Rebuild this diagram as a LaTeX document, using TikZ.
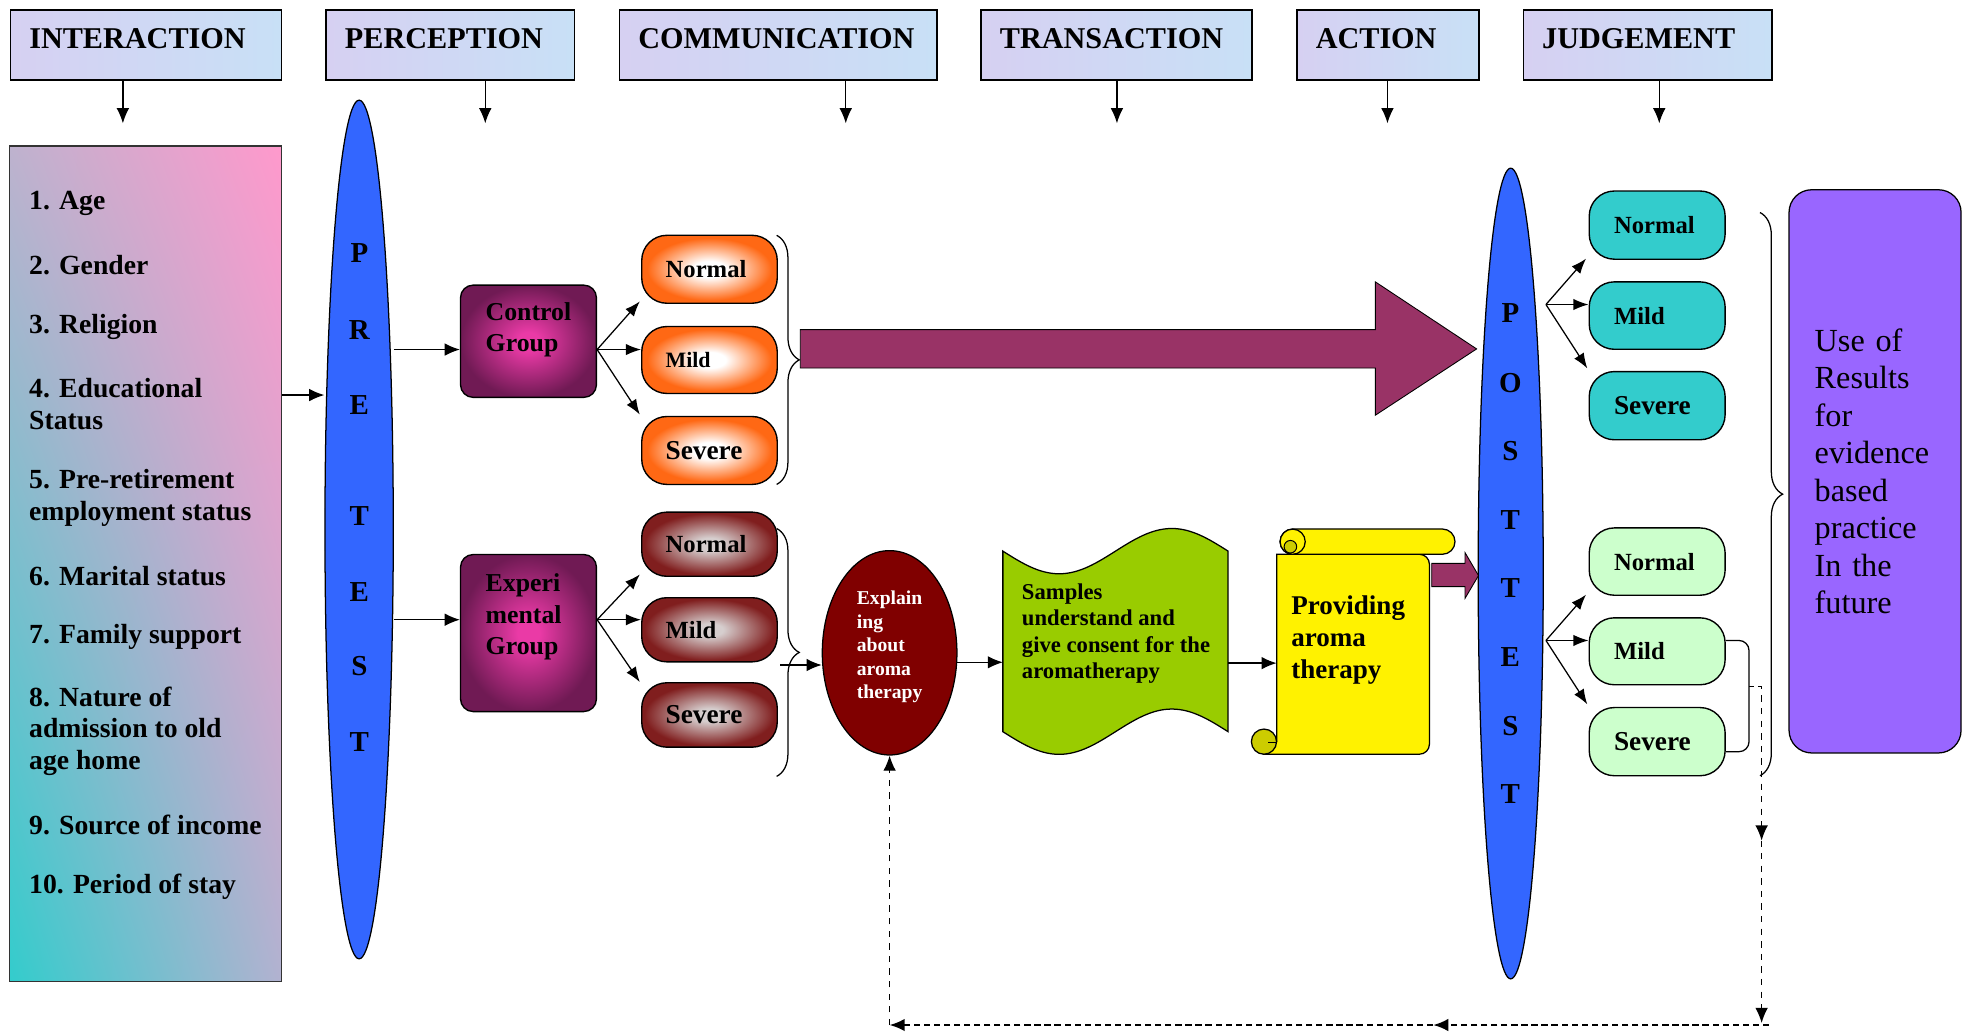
\documentclass[tikz,border=0pt]{standalone}
\usepackage{fontspec}
\setmainfont{Liberation Serif}
\usetikzlibrary{arrows.meta,shapes.geometric,decorations.pathreplacing,shadings}

\definecolor{hdrA}{RGB}{214,208,242}
\definecolor{hdrB}{RGB}{200,224,246}
\definecolor{pinkC}{RGB}{255,153,204}
\definecolor{tealC}{RGB}{51,204,204}
\definecolor{mixA}{RGB}{190,178,206}
\definecolor{mixB}{RGB}{178,178,208}
\definecolor{blueE}{RGB}{51,102,255}
\definecolor{grpIn}{RGB}{234,58,166}
\definecolor{grpOut}{RGB}{112,26,84}
\definecolor{orEdge}{RGB}{255,104,20}
\definecolor{brIn}{RGB}{214,206,206}
\definecolor{brEdge}{RGB}{128,30,30}
\definecolor{plum}{RGB}{153,51,102}
\definecolor{darkRed}{RGB}{128,0,0}
\definecolor{limeC}{RGB}{153,204,0}
\definecolor{curlY}{RGB}{204,204,0}
\definecolor{cyanC}{RGB}{51,204,204}
\definecolor{mintC}{RGB}{204,255,204}
\definecolor{violetC}{RGB}{153,102,255}

\pgfdeclareradialshading{orglow}{\pgfpoint{0bp}{0bp}}{color(0bp)=(white); color(6bp)=(white); color(23bp)=(orEdge); color(50bp)=(orEdge)}
\pgfdeclareradialshading{brglow}{\pgfpoint{0bp}{0bp}}{color(0bp)=(brIn); color(5bp)=(brIn); color(24bp)=(brEdge); color(50bp)=(brEdge)}
\pgfdeclareradialshading{grpglow}{\pgfpoint{0bp}{0bp}}{color(0bp)=(grpIn); color(4bp)=(grpIn); color(25bp)=(grpOut); color(50bp)=(grpOut)}

\begin{document}
\begin{tikzpicture}[x=1pt,y=-1pt,
  arr/.style={-{Latex[length=12pt,width=10pt]}, line width=1pt},
  arrS/.style={-{Latex[length=12pt,width=9pt]}, line width=1pt},
  hdr/.style={draw, line width=1.3pt, left color=hdrA, right color=hdrB, anchor=north west,
    minimum height=55.6pt, inner xsep=15pt, inner ysep=0pt, align=left,
    font=\fontsize{24}{28}\selectfont\bfseries, text height=16pt, text depth=10pt},
  item/.style={anchor=west, align=left, inner sep=0pt, font=\fontsize{22}{25}\selectfont\bfseries},
  letter/.style={inner sep=0pt, font=\fontsize{23}{23}\selectfont\bfseries},
  grpbox/.style={draw, line width=1.1pt, rounded corners=10pt, shade, shading=grpglow, minimum width=108pt, inner sep=0pt},
  grptxt/.style={align=left, text width=68pt, inner sep=0pt, font=\fontsize{20.5}{25}\selectfont\bfseries},
  pill/.style={draw, line width=1.1pt, rounded corners=20pt, minimum width=107.7pt, inner xsep=19pt, inner ysep=0pt, text width=69.7pt, align=left},
  orpill/.style={pill, shade, shading=orglow},
  brpill/.style={pill, shade, shading=brglow},
  cypill/.style={pill, fill=cyanC, minimum width=108pt, inner xsep=19.7pt, text width=68.6pt},
  mnpill/.style={pill, fill=mintC, minimum width=108pt, inner xsep=19.7pt, text width=68.6pt},
  fNorm/.style={font=\fontsize{19.6}{22}\selectfont\bfseries},
  fMildS/.style={font=\fontsize{17.4}{20}\selectfont\bfseries},
  fMild/.style={font=\fontsize{19.6}{22}\selectfont\bfseries},
  fSev/.style={font=\fontsize{21.7}{24}\selectfont\bfseries},
  bracestyle/.style={line width=1pt, decorate, decoration={brace, amplitude=18pt}},
  vdsh/.style={dash pattern=on 5pt off 5pt, line width=1pt},
  hdsh/.style={dash pattern=on 5pt off 3pt, line width=1.6pt}
]
\useasboundingbox (0,0) rectangle (1568,821);

% ---------- headers ----------
\node[hdr, minimum width=215.4pt, text width=185.4pt] (h1) at (7.6,7.2) {INTERACTION};
\node[hdr, minimum width=197.5pt, text width=167.5pt] (h2) at (258.5,7.2) {PERCEPTION};
\node[hdr, minimum width=252.4pt, text width=222.4pt] (h3) at (491.6,7.2) {COMMUNICATION};
\node[hdr, minimum width=215.5pt, text width=185.5pt] (h4) at (779,7.2) {TRANSACTION};
\node[hdr, minimum width=144.6pt, text width=114.6pt] (h5) at (1030,7.2) {ACTION};
\node[hdr, minimum width=197.5pt, text width=167.5pt] (h6) at (1210,7.2) {JUDGEMENT};
\foreach \h/\dx in {h1/-18.3, h2/27.75, h3/53.7, h4/0.25, h5/-0.3, h6/9.25}
  \draw[arr] ([xshift=\dx]\h.south) -- ++(0,33.9);

% ---------- demographic box ----------
\node[draw=black!80, line width=0.9pt, shade, upper left=mixA, upper right=pinkC,
      lower left=tealC, lower right=mixB, anchor=north west,
      minimum width=216.1pt, minimum height=663.8pt, inner sep=0pt] (demo) at (7.2,115.6) {};
\node[item] (l1) at (23,161.5) {1. Age};
\node[item] (l2) at (23,210.5) {2. Gender};
\node[item] (l3) at (23,259.5) {3. Religion};
\node[item] (l4) at (23,321) {4. Educational\\Status};
\node[item] (l5) at (23,395.5) {5. Pre-retirement\\employment status};
\node[item] (l6) at (23,457.5) {6. Marital status};
\node[item] (l7) at (23,506.5) {7. Family support};
\node[item] (l8) at (23,581) {8. Nature of\\admission to old\\age home};
\node[item] (l9) at (23,655.5) {9. Source of income};
\node[item] (l10) at (23,705) {10. Period of stay};

% ---------- PRETEST ----------
\node[ellipse, draw, line width=1pt, fill=blueE, minimum width=54.3pt, minimum height=682.4pt, inner sep=0pt] (pre) at (285.4,420.8) {};
\foreach \L/\y [count=\i] in {P/200.8,R/262,E/322.2,T/410.4,E/470.2,S/529.6,T/589.4}
  \node[letter] (pre\i) at (285.6,\y) {\L};

\coordinate (dout) at ([yshift=134pt]demo.east);
\draw[arr] (dout) -- (dout -| pre.west);

% ---------- groups ----------
\node[grpbox, minimum height=89.2pt] (cg) at (420,271.2) {};
\node[grptxt] (cgt) at ([yshift=9pt]cg.center) {Control\\Group};
\node[grpbox, minimum height=124.8pt] (eg) at (420,503.1) {};
\node[grptxt] (egt) at ([yshift=12.9pt]eg.center) {Experi\\mental\\Group};

\coordinate (cgin) at ([yshift=-6.6pt]cg.west);
\coordinate (egin) at ([yshift=10.6pt]eg.west);
\draw[arr] (pre.east |- cgin) -- (cgin);
\draw[arr] (pre.east |- egin) -- (egin);

% ---------- pre-test levels ----------
\node[orpill, minimum height=54pt, fNorm] (on) at (563.85,214) {Normal};
\node[orpill, minimum height=53.2pt, fMildS] (om) at (563.85,286.1) {Mild};
\node[orpill, minimum height=54pt, fSev] (os) at (563.85,358) {Severe};
\node[brpill, minimum height=51pt, fNorm] (bn) at (563.85,432.5) {Normal};
\node[brpill, minimum height=51pt, fMild] (bm) at (563.85,500.5) {Mild};
\node[brpill, minimum height=51.2pt, fSev] (bs) at (563.85,568.2) {Severe};

\coordinate (c0) at ([yshift=-6.6pt]cg.east);
\draw[arrS] (c0) -- ([shift={(-1pt,2pt)}]on.south west);
\draw[arrS] (c0) -- (c0 -| om.west);
\draw[arrS] (c0) -- ([shift={(-1pt,1pt)}]os.north west);
\coordinate (e0) at ([yshift=10.6pt]eg.east);
\draw[arrS] (e0) -- ([shift={(-1pt,2pt)}]bn.south west);
\draw[arrS] (e0) -- (e0 -| bm.west);
\draw[arrS] (e0) -- ([shift={(-1pt,0pt)}]bs.north west);

\draw[bracestyle] (617.2,187) -- (617.2,385);
\draw[bracestyle] (617.2,420) -- (617.2,617);

% ---------- big arrow ----------
\draw[fill=plum, line width=0.7pt] (636,262) -- (1093,262) -- (1093,224) -- (1173.5,277.3)
  -- (1093,330) -- (1093,292.5) -- (636,292.5) -- cycle;

% ---------- explaining ----------
\node[ellipse, draw, line width=1pt, fill=darkRed, minimum width=107pt, minimum height=162.4pt, inner sep=0pt] (expl) at (707,518.8) {};
\node[align=left, text=white, inner sep=0pt, font=\fontsize{15.6}{18.7}\selectfont\bfseries] (explt) at (707,514.2) {Explain\\ing\\about\\aroma\\therapy};
\coordinate (btip) at (620,528.5);
\draw[arr] (btip) -- (btip -| expl.west);

% ---------- samples (wavy document) ----------
\draw[fill=limeC, line width=1pt] (797,438) sin (841.75,456) cos (886.5,438) sin (931.25,420) cos (976,438)
  -- (976,581.5) sin (931.25,563.5) cos (886.5,581.5) sin (841.75,599.5) cos (797,581.5) -- cycle;
\node[align=left, anchor=west, inner sep=0pt, font=\fontsize{18}{21}\selectfont\bfseries] (samples) at (812,503.6)
  {Samples\\understand and\\give consent for the\\aromatherapy};
\coordinate (docW) at (797,527);
\coordinate (docE) at (976.2,527);
\draw[arr] (expl.-8.5) -- (expl.-8.5 -| docW);

% ---------- scroll ----------
\draw[fill=yellow, line width=1pt] (1136,440.5) -- (1014.6,440.5) -- (1014.6,589.4) -- (1004.5,599.4)
  [rounded corners=8pt] -- (1136,599.4) -- cycle;
\draw[fill=yellow, line width=1pt, rounded corners=10pt] (1017.3,420.4) rectangle (1156.3,440.5);
\draw[fill=yellow, line width=1pt] (1027.3,430.5) circle[radius=10];
\draw[fill=curlY, line width=0.8pt] (1025.5,434.5) circle[radius=5];
\draw[fill=curlY, line width=1pt] (1004.5,589.4) circle[radius=10];
\draw[line width=0.8pt] (1014.6,580) -- (1014.6,590) -- (1008,590);
\node[anchor=west, align=left, minimum width=121.4pt, text width=98.6pt, inner xsep=11.4pt, inner ysep=0pt,
      font=\fontsize{21.5}{25.5}\selectfont\bfseries] (provide) at (1014.6,508.8) {Providing\\aroma\\therapy};
\draw[arr] (docE) -- (docE -| provide.west);

% ---------- POSTTEST ----------
\node[ellipse, draw, line width=1pt, fill=blueE, minimum width=51.7pt, minimum height=644.3pt, inner sep=0pt] (post) at (1200.6,455.8) {};
\foreach \L/\y [count=\i] in {P/248.7,O/304.4,S/358.7,T/412.9,T/467,E/522.2,S/577,T/631.3}
  \node[letter] (post\i) at (1200.3,\y) {\L};

\draw[fill=plum, line width=0.7pt] (1137.8,447.7) -- (1164.3,447.7) -- (1164.3,439.2) -- (1175,457.4)
  -- (1164.3,475.5) -- (1164.3,466.2) -- (1137.8,466.2) -- cycle;

% ---------- post-test levels ----------
\node[cypill, minimum height=54.2pt, fNorm] (cn) at (1317,178.9) {Normal};
\node[cypill, minimum height=53.6pt, fMild] (cm) at (1317,250.8) {Mild};
\node[cypill, minimum height=54.2pt, fSev] (cs) at (1317,322.4) {Severe};
\node[mnpill, minimum height=53.5pt, fNorm] (gn) at (1317,446.3) {Normal};
\node[mnpill, minimum height=53.2pt, fMild] (gm) at (1317,517.6) {Mild};
\node[mnpill, minimum height=54.2pt, fSev] (gs) at (1317,589.4) {Severe};

\coordinate (p0) at (1228.6,242);
\coordinate (p1) at (1228.6,509);
\draw[arrS] (p0) -- ([shift={(-2pt,1pt)}]cn.south west);
\draw[arrS] (p0) -- (p0 -| cm.west);
\draw[arrS] (p0) -- ([shift={(-1pt,2pt)}]cs.north west);
\draw[arrS] (p1) -- ([shift={(-2pt,1pt)}]gn.south west);
\draw[arrS] (p1) -- (p1 -| gm.west);
\draw[arrS] (p1) -- ([shift={(-1pt,2pt)}]gs.north west);

\draw[bracestyle] (1398.7,168.9) -- (1398.7,616.5);

% ---------- use of results ----------
\node[draw, line width=1pt, fill=violetC, rounded corners=18pt, minimum width=136.7pt, minimum height=447.6pt,
      inner xsep=20.4pt, text width=95.9pt, align=left, font=\fontsize{25.6}{29.8}\selectfont] (use) at (1490.15,374.6)
  {Use of\\Results\\for\\evidence\\based\\practice\\In the\\future};

% ---------- feedback loop ----------
\coordinate (bk) at (1390,545.7);
\draw[line width=1pt, rounded corners=8pt] ([yshift=8.6pt]gm.east) -| (bk) |- ([yshift=-8pt]gs.east);
\draw[line width=1pt] (bk) -- ++(4,0);
\coordinate (dv1) at (1400,668);
\coordinate (dv2) at (1400,813);
\draw[arr, vdsh] ([xshift=7pt]bk) -| (dv1);
\draw[arr, vdsh] (dv1) -- (dv2);
\coordinate (dh0) at (1406,814.6);
\coordinate (dh1) at (1139,814.6);
\coordinate (dh2) at (expl.south |- dh1);
\draw[arr, hdsh] (dh0) -- (dh1);
\draw[arr, hdsh] (dh1) -- (dh2);
\draw[arr, vdsh] (dh2) -- (expl.south);
\end{tikzpicture}
\end{document}
